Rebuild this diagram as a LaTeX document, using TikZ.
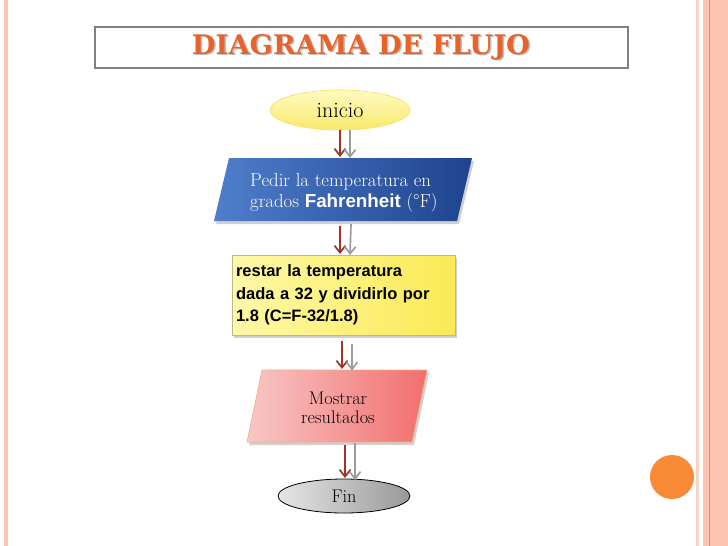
\documentclass[tikz,border=0pt]{standalone}
\usepackage{fontspec}
\usepackage{graphicx}
\usetikzlibrary{arrows.meta,shadows,shapes.geometric}
\newfontfamily\arialf{Liberation Sans}
\newfontfamily\titlef{DejaVu Serif}
\definecolor{stripe}{HTML}{FBC5B1}
\definecolor{stripelight}{HTML}{F9D3C4}
\definecolor{stripeline}{HTML}{E88A55}
\definecolor{titleorange}{HTML}{E8632A}
\definecolor{arrred}{HTML}{A3302B}
\definecolor{arrgray}{HTML}{9C9C9C}
\definecolor{dotorange}{HTML}{F98A36}
\definecolor{blueL}{HTML}{4F7ECB}
\definecolor{blueR}{HTML}{1F438E}
\definecolor{yelL}{HTML}{FFF8A8}
\definecolor{yelR}{HTML}{FAEA55}
\definecolor{yelT}{HTML}{FFFAC4}
\definecolor{yelB}{HTML}{F8EA6A}
\definecolor{pinkL}{HTML}{F8C8C6}
\definecolor{pinkR}{HTML}{F26E6E}
\tikzset{
  redarr/.style={draw=arrred, line width=1.7pt, -{Straight Barb[length=7pt,width=11pt]}},
  grayarr/.style={draw=arrgray, line width=1.7pt, -{Straight Barb[length=7pt,width=11pt]}},
  softshadow/.style={drop shadow={shadow xshift=2pt, shadow yshift=-3pt, opacity=0.3, fill=black!60}},
}
\begin{document}
\begin{tikzpicture}[x=1pt,y=-1pt]
\useasboundingbox (0,0) rectangle (728,546);
\fill[white] (0,0) rectangle (728,546);
% side stripes
\fill[stripe] (4,0) rectangle (8,546);
\fill[stripelight] (696,0) rectangle (699,546);
\fill[stripe] (703,0) rectangle (728,546);
\draw[stripeline, line width=1pt] (709.5,0) -- (709.5,546);
% title box
\node[draw=black!50, line width=1.5pt, fill=white, minimum width=533pt, minimum height=41pt, inner sep=0pt] (titlebox) at (361.5,47.5) {};
\node[text=black!25, inner sep=0pt] at (362.5,48.5) {\resizebox{338pt}{20pt}{\titlef\bfseries DIAGRAMA DE FLUJO}};
\node[text=titleorange, inner sep=0pt] (title) at (361,47.5) {\resizebox{338pt}{20pt}{\titlef\bfseries DIAGRAMA DE FLUJO}};
% inicio
\node[ellipse, draw=yellow!60!orange!60, line width=0.6pt, top color=yelT, bottom color=yelB, minimum width=140pt, minimum height=40pt, inner sep=0pt, font=\fontsize{22}{24}\selectfont] (inicio) at (340,110) {inicio};
% blue parallelogram
\path[softshadow, left color=blueL, right color=blueR, draw=none]
  (229,158) -- (472,158) -- (457,221) -- (214,221) -- cycle;
\node[anchor=west, align=left, text=white, inner sep=0pt, font=\fontsize{18.8}{21}\selectfont] (pedir) at (250,193)
  {Pedir la temperatura en\\grados {\arialf\bfseries Fahrenheit} (°F)};
\coordinate (pedirtop) at (340,157);
\coordinate (pedirbot) at (340,226);
% yellow rectangle
\node[softshadow, rectangle, draw=yellow!50!black!60, line width=0.5pt, left color=yelL, right color=yelR, minimum width=223pt, minimum height=80pt, inner xsep=4pt, text width=215pt, align=left, font=\arialf\bfseries\fontsize{16.5}{22.5}\selectfont] (restar) at (343.5,295)
  {restar la temperatura\\dada a 32 y dividirlo por\\1.8 (C=F-32/1.8)};
\coordinate (restartop) at (340,254);
\coordinate (restarbot) at (342,341);
% pink parallelogram
\path[softshadow, left color=pinkL, right color=pinkR, draw=brown!50!orange!60, line width=0.6pt]
  (262,370) -- (427,370) -- (412,442) -- (247,442) -- cycle;
\node[align=center, inner sep=0pt, font=\fontsize{18.3}{19.5}\selectfont] (mostrar) at (338,408) {Mostrar\\resultados};
\coordinate (mostrartop) at (342,369);
\coordinate (mostrarbot) at (345,445);
% fin
\node[ellipse, draw=black, line width=0.8pt, left color=black!10, right color=black!40, minimum width=132pt, minimum height=34pt, inner sep=0pt, font=\fontsize{18.3}{20}\selectfont] (fin) at (344,496) {Fin};
\coordinate (fintop) at (345,478);
% arrows
\draw[redarr] (inicio.south) -- (pedirtop);
\draw[grayarr] ([xshift=10pt]inicio.south) -- ([xshift=10pt,yshift=-1pt]pedirtop);
\draw[redarr] (pedirbot) -- (restartop);
\draw[grayarr] ([xshift=11pt,yshift=2pt]pedirbot) -- ([xshift=10pt,yshift=-1pt]restartop);
\draw[redarr] (restarbot) -- (mostrartop);
\draw[grayarr] ([xshift=10pt,yshift=-3pt]restarbot) -- ([xshift=10pt,yshift=-1.5pt]mostrartop);
\draw[redarr] (mostrarbot) -- (fintop);
\draw[grayarr] ([xshift=10pt,yshift=2pt]mostrarbot) -- ([xshift=10pt,yshift=-2pt]fintop);
% orange dot
\fill[dotorange] (672,477) circle[radius=22pt];
\end{tikzpicture}
\end{document}
